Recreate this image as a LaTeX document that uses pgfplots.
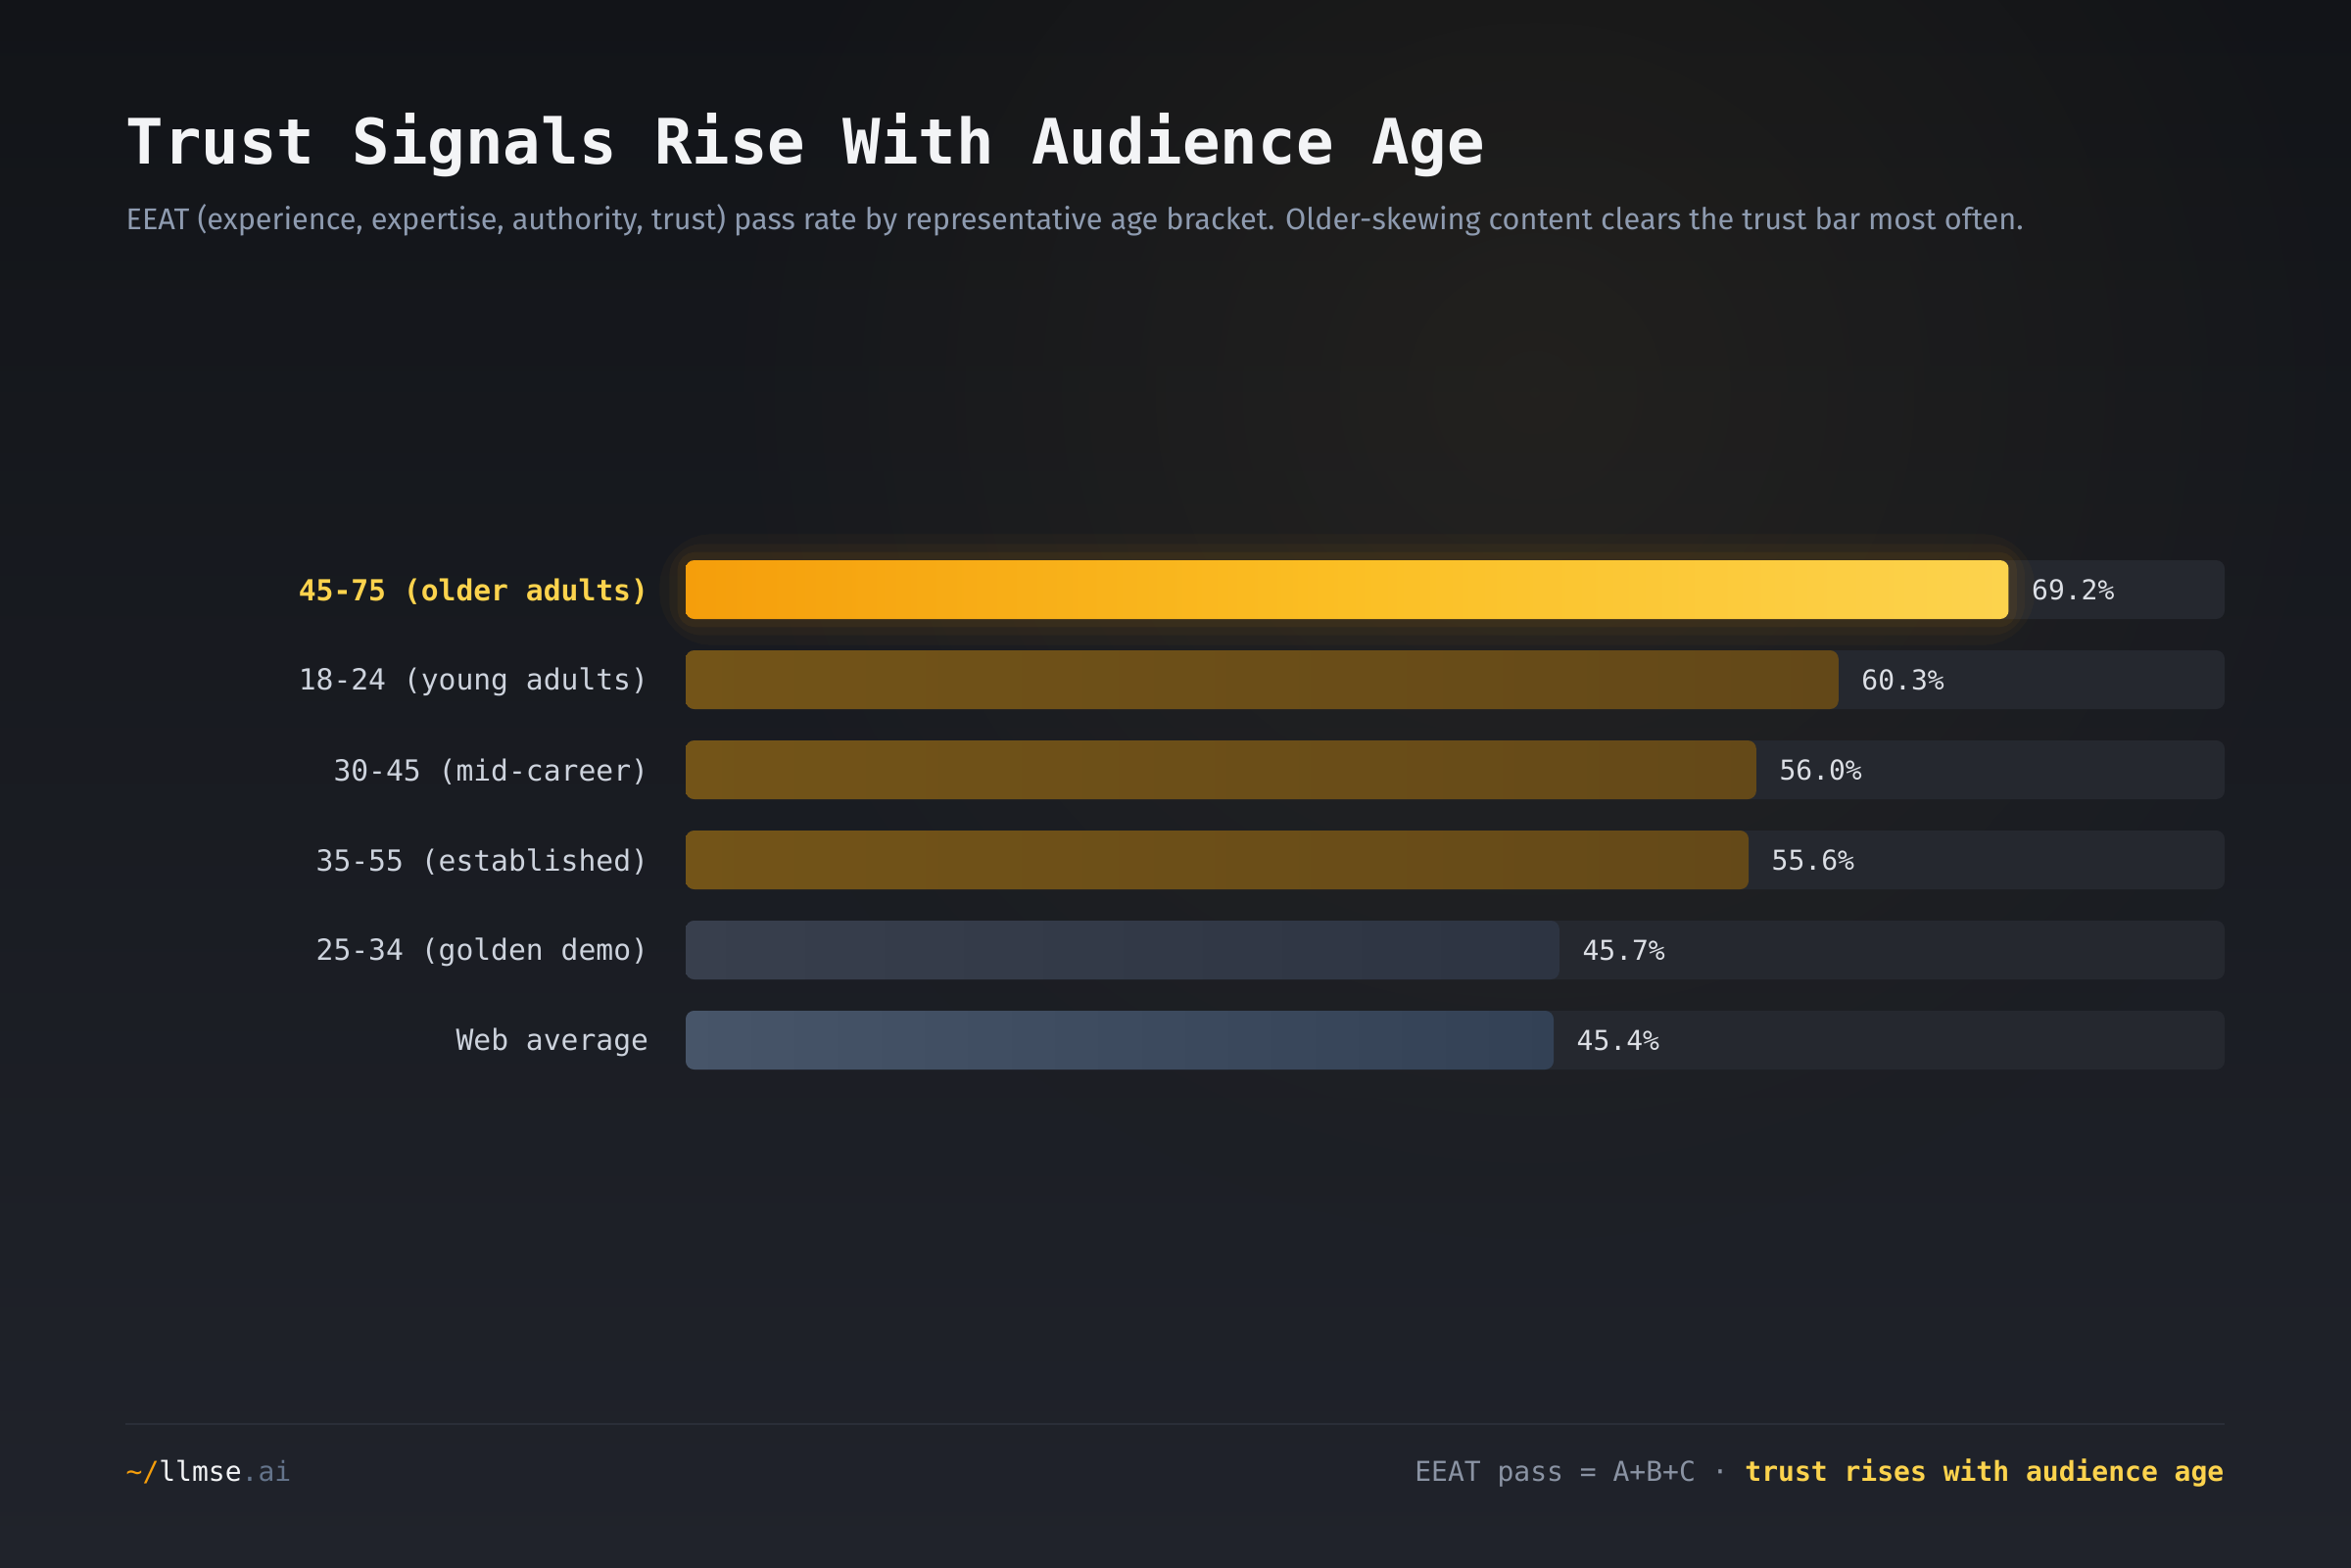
\documentclass[border=0pt]{standalone}
\usepackage{fontspec}
\usepackage{pgfplots}
\pgfplotsset{compat=1.18}
\usetikzlibrary{fadings}
\setmainfont{Fira Sans}
\newfontfamily\mono{DejaVu Sans Mono}
\newfontfamily\subfont{Fira Sans}

\definecolor{bgtop}{HTML}{121418}
\definecolor{bgbot}{HTML}{20232B}
\definecolor{warm}{HTML}{3A3222}
\definecolor{track}{HTML}{25282F}
\definecolor{amberA}{HTML}{F59E0B}
\definecolor{amberB}{HTML}{FBBF24}
\definecolor{amberC}{HTML}{FCD34D}
\definecolor{brownA}{HTML}{735418}
\definecolor{brownB}{HTML}{634818}
\definecolor{slateA}{HTML}{383F4D}
\definecolor{slateB}{HTML}{2D3442}
\definecolor{blueA}{HTML}{475569}
\definecolor{blueB}{HTML}{334155}
\definecolor{titletxt}{HTML}{F3F4F6}
\definecolor{subtxt}{HTML}{8E9BB0}
\definecolor{labtxt}{HTML}{CDD3DD}
\definecolor{hilite}{HTML}{FCD34D}
\definecolor{valtxt}{HTML}{DCDFE5}
\definecolor{foottxt}{HTML}{8A93A3}
\definecolor{footline}{HTML}{2A2E38}
\definecolor{aigray}{HTML}{64748B}

\tikzfading[name=softglow, inner color=transparent!0, outer color=transparent!100]
\tikzset{catlab/.style={anchor=east, inner sep=0, xshift=-11.2pt, yshift=-0.6pt, text=labtxt, font=\mono\fontsize{8.9}{11}\selectfont}}

\begin{document}
\begin{tikzpicture}
% background
\shade[top color=bgtop, bottom color=bgbot] (0,0) rectangle (720pt,480pt);
\fill[warm, path fading=softglow, fill opacity=0.35] (470pt,360pt) circle (260pt);

% title & subtitle
\node[anchor=base west, inner sep=0, text=titletxt] at (38.4pt,429.6pt)
  {\mono\bfseries\fontsize{19.2}{23}\selectfont Trust Signals Rise With Audience Age};
\node[anchor=base west, inner sep=0, text=subtxt] at (38.4pt,409.5pt)
  {\subfont\fontsize{9.2}{11}\selectfont EEAT (experience, expertise, authority, trust) pass rate by representative age bracket. Older-skewing content clears the trust bar most often.};

\begin{axis}[
  at={(210pt,147.6pt)}, anchor=south west,
  scale only axis, width=471.3pt, height=165.6pt,
  xmin=0, xmax=80.5, ymin=-0.5, ymax=5.5,
  hide axis, clip=false,
  /pgf/number format/assume math mode=true,
  valstyle/.style={
    point meta=x,
    nodes near coords={\pgfmathprintnumber[fixed,fixed zerofill,precision=1]{\pgfplotspointmeta}\%},
    nodes near coords style={font=\mono\fontsize{8.4}{10}\selectfont, text=valtxt, anchor=west, inner sep=0pt, xshift=6.9pt},
  },
]
% tracks
\addplot[xbar, bar width=18pt, fill=track, draw=none, rounded corners=2.6pt]
  coordinates {(80.5,0) (80.5,1) (80.5,2) (80.5,3) (80.5,4) (80.5,5)};
% glow around the highlighted bar
\addplot[xbar, bar width=18pt, fill=none, draw=amberA, draw opacity=0.035, line width=16pt, rounded corners=8pt]
  coordinates {(69.2,5)};
\addplot[xbar, bar width=18pt, fill=none, draw=amberA, draw opacity=0.045, line width=10pt, rounded corners=5pt]
  coordinates {(69.2,5)};
\addplot[xbar, bar width=18pt, fill=none, draw=amberA, draw opacity=0.06, line width=5pt, rounded corners=3pt]
  coordinates {(69.2,5)};
% bars
\addplot[xbar, bar width=18pt, draw=none, left color=amberA, right color=amberC, middle color=amberB, rounded corners=2.6pt, valstyle]
  coordinates {(69.2,5)};
\addplot[xbar, bar width=18pt, draw=none, left color=brownA, right color=brownB, rounded corners=2.6pt, valstyle]
  coordinates {(60.3,4) (56.0,3) (55.6,2)};
\addplot[xbar, bar width=18pt, draw=none, left color=slateA, right color=slateB, rounded corners=2.6pt, valstyle]
  coordinates {(45.7,1)};
\addplot[xbar, bar width=18pt, draw=none, left color=blueA, right color=blueB, rounded corners=2.6pt, valstyle]
  coordinates {(45.4,0)};

% category labels
\node[catlab, text=hilite, font=\mono\bfseries\fontsize{8.9}{11}\selectfont] at (axis cs:0,5) {45-75 (older adults)};
\node[catlab] at (axis cs:0,4) {18-24 (young adults)};
\node[catlab] at (axis cs:0,3) {30-45 (mid-career)};
\node[catlab] at (axis cs:0,2) {35-55 (established)};
\node[catlab] at (axis cs:0,1) {25-34 (golden demo)};
\node[catlab] at (axis cs:0,0) {Web average};
\end{axis}

% footer
\draw[footline, line width=0.6pt] (38.4pt,43.8pt) -- (681.3pt,43.8pt);
\node[anchor=base west, inner sep=0] at (38.4pt,26.4pt)
  {\mono\fontsize{8.4}{10}\selectfont\textcolor{amberA}{\textasciitilde/}\textcolor{titletxt}{llmse}\textcolor{aigray}{.ai}};
\node[anchor=base east, inner sep=0] at (681.3pt,26.4pt)
  {\mono\fontsize{8.4}{10}\selectfont\textcolor{foottxt}{EEAT pass = A+B+C · }\textcolor{hilite}{\bfseries trust rises with audience age}};

\pgfresetboundingbox
\path (0,0) rectangle (720pt,480pt);
\end{tikzpicture}
\end{document}
